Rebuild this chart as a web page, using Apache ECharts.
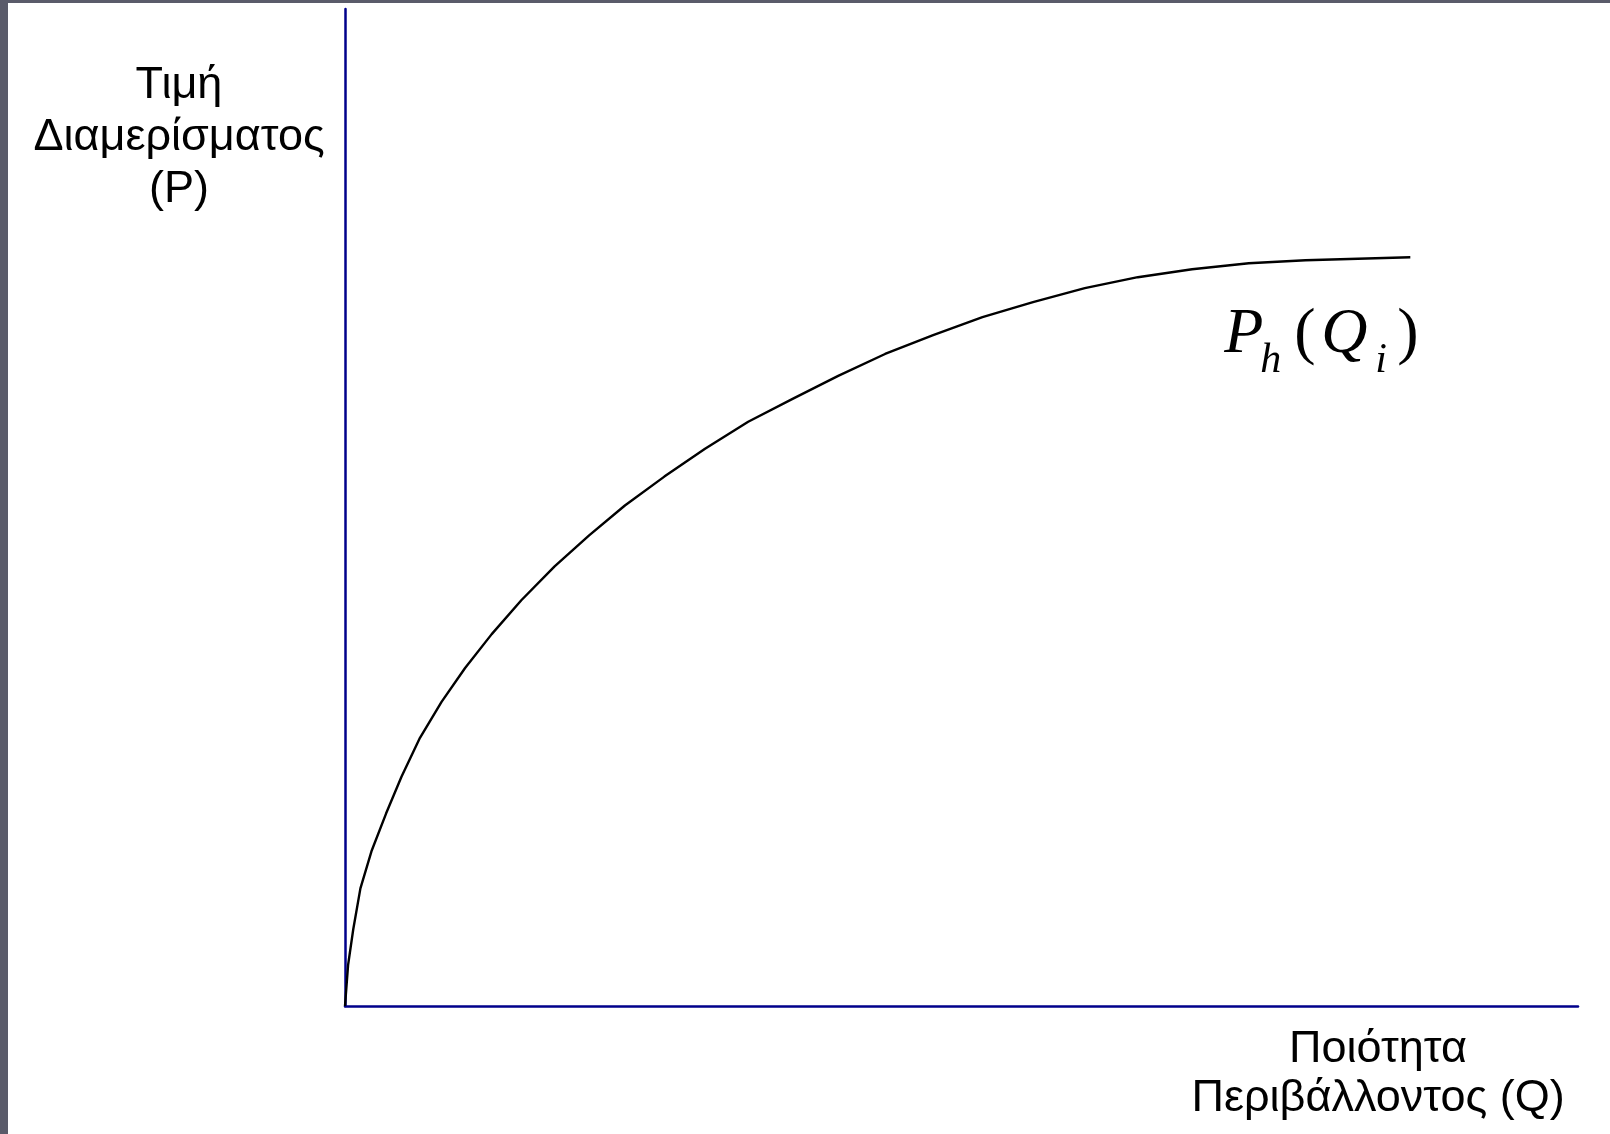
<!DOCTYPE html>
<html>
<head>
<meta charset="utf-8">
<title>Τιμή διαμερίσματος και ποιότητα περιβάλλοντος</title>
<script src="https://cdn.jsdelivr.net/npm/echarts@6/dist/echarts.min.js"></script>
<style>
html, body { margin: 0; padding: 0; width: 1610px; height: 1134px; overflow: hidden; background: #5a5b6a; }
#main { position: absolute; left: 8px; top: 3px; width: 1602px; height: 1131px; background: #fff; }
</style>
</head>
<body>
<div id="main"></div>
<script>
// Q (ποιότητα περιβάλλοντος) and P (τιμή) on a 0-100 scale
var qualityQ = [0, 0.25, 0.67, 1.25, 2.17, 3.33, 4.58, 6.08, 7.83, 9.74, 11.9, 14.3, 17.0, 19.8, 22.7,
                25.9, 29.2, 32.7, 36.3, 40.0, 43.8, 47.7, 51.7, 55.8, 60.0, 64.3, 68.7, 73.3, 77.9, 86.4];
var priceP = [0, 4.1, 7.7, 11.8, 15.6, 19.3, 23.0, 26.9, 30.5, 33.9, 37.3, 40.7, 44.1, 47.2, 50.2,
              53.1, 55.9, 58.6, 60.9, 63.2, 65.4, 67.3, 69.1, 70.6, 72.0, 73.1, 73.9, 74.5, 74.8, 75.1];
var yTitle = ['Τιμή', 'Διαμερίσματος', '(P)'];
var xTitle = ['Ποιότητα', 'Περιβάλλοντος (Q)'];

var axisColor = '#00008b';
var sans = '"Liberation Sans", Arial, sans-serif';
var serif = '"Liberation Serif", "Times New Roman", serif';

var chart = echarts.init(document.getElementById('main'));

var curve = [];
for (var i = 0; i < qualityQ.length; i++) {
    curve.push([qualityQ[i], priceP[i]]);
}

var option = {
    animation: false,
    grid: { left: 337, right: 32, top: 6, bottom: 128 },
    xAxis: {
        type: 'value', min: 0, max: 100,
        axisLine: { show: true, lineStyle: { color: axisColor, width: 2.5 } },
        axisTick: { show: false }, axisLabel: { show: false }, splitLine: { show: false }
    },
    yAxis: {
        type: 'value', min: 0, max: 100,
        axisLine: { show: true, lineStyle: { color: axisColor, width: 2.5 } },
        axisTick: { show: false }, axisLabel: { show: false }, splitLine: { show: false }
    },
    series: [{
        type: 'line',
        data: curve,
        showSymbol: false,
        smooth: false,
        lineStyle: { color: '#000', width: 2.4 }
    }]
};
chart.setOption(option);

// P_h(Q_i) label, placed relative to the end of the curve
var end = chart.convertToPixel({ gridIndex: 0 }, curve[curve.length - 1]);
function part(txt, dx, baseline, size, italic) {
    return {
        type: 'text', x: dx, y: baseline - 0.3 * size,
        style: {
            text: txt, fill: '#000', font: (italic ? 'italic ' : '') + size + 'px ' + serif,
            align: 'left', verticalAlign: 'middle'
        }
    };
}

chart.setOption({
    graphic: [
        {
            type: 'text', x: 171, y: 57,
            style: { text: yTitle.join('\n'), fill: '#000', fontFamily: sans, fontSize: 45,
                     lineHeight: 52, align: 'center', verticalAlign: 'top' }
        },
        {
            type: 'text', x: 1370, y: 1022,
            style: { text: xTitle.join('\n'), fill: '#000', fontFamily: sans, fontSize: 45,
                     lineHeight: 49, align: 'center', verticalAlign: 'top' }
        },
        {
            type: 'group', x: end[0], y: end[1],
            children: [
                part('P', -186, 97, 64, true),
                part('h', -150, 116, 42, true),
                part('(', -116, 97, 64, false),
                part('Q', -89, 97, 64, true),
                part('i', -35, 116, 42, true),
                part(')', -13, 97, 64, false)
            ]
        }
    ]
});
</script>
</body>
</html>
